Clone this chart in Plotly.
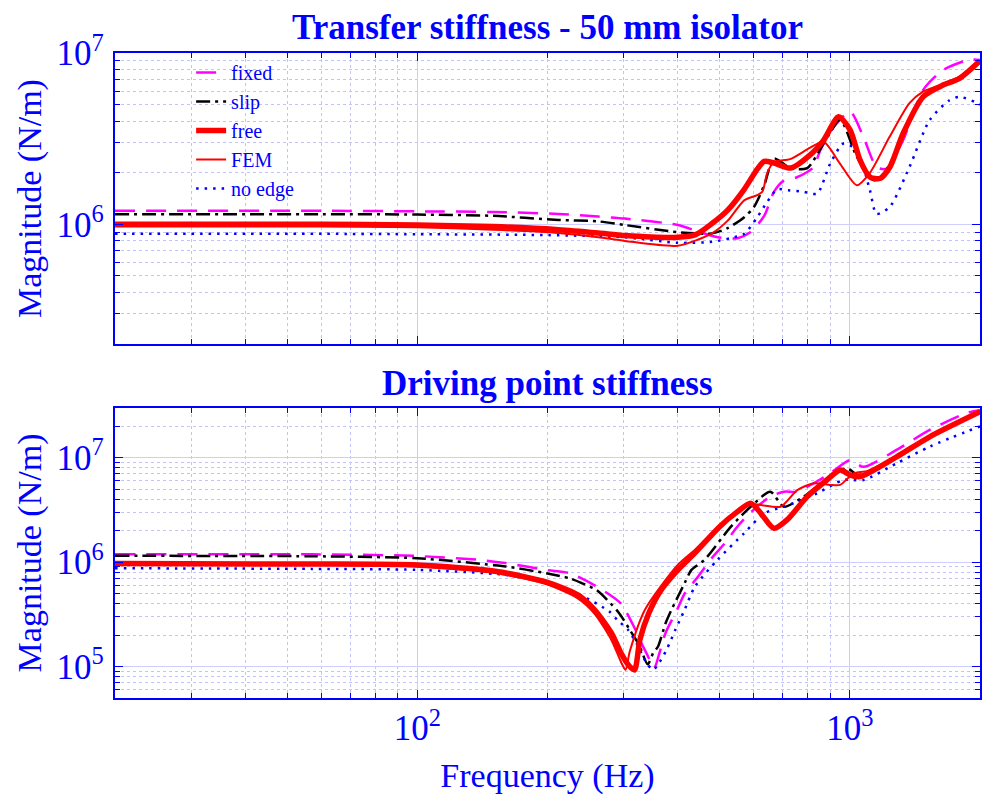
import numpy as np
import plotly.graph_objects as go

# ---------------- data ----------------
# Transfer stiffness (top panel)
tr_fixed_f = [20, 60, 100, 150, 212, 262, 302, 400, 450, 495, 550, 589, 634, 668, 704, 750, 797, 825, 855, 918, 1002, 1075, 1153, 1216, 1328, 1477, 1643, 1891, 2000]
tr_fixed_m = [1.2e6, 1.2e6, 1.19e6, 1.18e6, 1.15e6, 1.11e6, 1.08e6, 0.99e6, 0.9e6, 0.84e6, 0.83e6, 0.9e6, 1.12e6, 1.55e6, 1.8e6, 1.87e6, 2.02e6, 2.16e6, 2.71e6, 3.7e6, 4.54e6, 3.24e6, 2.16e6, 2.11e6, 3.1e6, 6.07e6, 7.95e6, 9.15e6, 9.1e6]

tr_slip_f = [20, 60, 100, 150, 212, 262, 302, 400, 480, 522, 570, 600, 634, 668, 730, 797, 870, 950, 1038, 1134, 1180, 1238, 1328, 1477, 1643, 1794, 2000]
tr_slip_m = [1.145e6, 1.145e6, 1.14e6, 1.12e6, 1.06e6, 1.04e6, 0.99e6, 0.9e6, 0.885e6, 0.95e6, 1.1e6, 1.26e6, 1.69e6, 2.42e6, 2.12e6, 2.13e6, 2.96e6, 4.06e6, 2.48e6, 1.81e6, 1.88e6, 2.25e6, 3.35e6, 5.5e6, 6.5e6, 7.1e6, 8.9e6]

tr_free_f = [20, 60, 100, 150, 212, 262, 302, 400, 440, 480, 522, 570, 611, 634, 668, 730, 811, 870, 942, 1002, 1056, 1113, 1174, 1238, 1328, 1477, 1643, 1794, 2000]
tr_free_m = [1.0e6, 1.0e6, 0.99e6, 0.97e6, 0.93e6, 0.89e6, 0.86e6, 0.84e6, 0.87e6, 1.01e6, 1.21e6, 1.6e6, 2.1e6, 2.33e6, 2.28e6, 2.13e6, 2.55e6, 3.1e6, 4.24e6, 3.55e6, 2.37e6, 1.89e6, 1.85e6, 2.16e6, 3.39e6, 5.55e6, 6.5e6, 7.1e6, 9.0e6]

tr_fem_f = [20, 60, 100, 150, 212, 262, 302, 400, 480, 522, 570, 611, 628, 644, 668, 728, 810, 870, 948, 1038, 1112, 1236, 1374, 1477, 1643, 1794, 2000]
tr_fem_m = [0.97e6, 0.97e6, 0.96e6, 0.93e6, 0.89e6, 0.84e6, 0.8e6, 0.75e6, 0.886e6, 1.05e6, 1.38e6, 1.48e6, 1.55e6, 1.99e6, 2.31e6, 2.4e6, 2.8e6, 3.03e6, 2.27e6, 1.69e6, 1.99e6, 3.24e6, 5.1e6, 5.95e6, 6.6e6, 7.3e6, 9.0e6]

tr_noedge_f = [20, 60, 100, 200, 300, 400, 480, 530, 570, 611, 644, 680, 720, 780, 840, 901, 967, 1038, 1113, 1153, 1236, 1374, 1530, 1700, 1792, 1941, 2000]
tr_noedge_m = [0.88e6, 0.88e6, 0.875e6, 0.865e6, 0.84e6, 0.78e6, 0.79e6, 0.83e6, 0.88e6, 1.1e6, 1.35e6, 1.6e6, 1.58e6, 1.55e6, 1.51e6, 2.26e6, 2.96e6, 2.71e6, 1.58e6, 1.15e6, 1.26e6, 2.16e6, 4.06e6, 5.3e6, 5.55e6, 5.2e6, 5.0e6]

# Driving point stiffness (bottom panel)
dp_fixed_f = [20, 57, 98, 140, 160, 200, 225, 257, 295, 318, 327, 340, 353, 362, 375, 400, 415, 445, 480, 513, 550, 590, 655, 704, 756, 825, 901, 1002, 1075, 1283, 1530, 1858, 2000]
dp_fixed_m = [1.19e6, 1.19e6, 1.15e6, 1.05e6, 0.98e6, 0.84e6, 0.785e6, 0.6e6, 0.405e6, 0.234e6, 0.18e6, 1.3e5, 0.97e5, 1.3e5, 0.21e6, 0.36e6, 0.5e6, 0.72e6, 1.1e6, 1.5e6, 2.2e6, 3.0e6, 4.25e6, 4.74e6, 4.74e6, 5.7e6, 7.1e6, 9.5e6, 8.2e6, 1.19e7, 1.85e7, 2.68e7, 2.85e7]

dp_slip_f = [20, 57, 100, 160, 200, 225, 240, 260, 292, 311, 326, 341, 351, 360, 375, 387, 415, 430, 461, 531, 590, 655, 704, 782, 901, 985, 1040, 1100, 1283, 1530, 2000]
dp_slip_m = [1.15e6, 1.14e6, 1.09e6, 0.91e6, 0.78e6, 0.7e6, 0.63e6, 0.54e6, 0.33e6, 0.22e6, 0.16e6, 1.05e5, 1.35e5, 1.55e5, 0.26e6, 0.35e6, 0.63e6, 0.84e6, 1.05e6, 2.19e6, 3.4e6, 4.74e6, 3.4e6, 4.25e6, 6.6e6, 7.95e6, 6.9e6, 7.1e6, 1.03e7, 1.6e7, 2.75e7]

dp_free_f = [20, 57, 100, 154, 200, 235, 257, 281, 296, 310, 318, 327, 343, 366, 400, 438, 500, 550, 590, 623, 668, 716, 797, 885, 950, 1002, 1056, 1283, 1530, 2000]
dp_free_m = [0.97e6, 0.96e6, 0.94e6, 0.81e6, 0.64e6, 0.486e6, 0.35e6, 0.21e6, 1.34e5, 1.0e5, 0.93e5, 0.18e6, 0.325e6, 0.54e6, 0.84e6, 1.22e6, 2.19e6, 3.05e6, 3.67e6, 2.94e6, 2.11e6, 2.54e6, 4.25e6, 6.13e6, 7.64e6, 6.84e6, 6.6e6, 1.02e7, 1.59e7, 2.76e7]

dp_fem_f = [20, 57, 100, 154, 200, 235, 257, 281, 296, 303, 310, 336, 400, 438, 500, 550, 590, 623, 692, 756, 825, 901, 950, 1020, 1100, 1283, 1530, 2000]
dp_fem_m = [0.95e6, 0.94e6, 0.91e6, 0.78e6, 0.61e6, 0.45e6, 0.32e6, 0.18e6, 1.1e5, 0.93e5, 1.4e5, 0.35e6, 0.94e6, 1.31e6, 2.25e6, 3.1e6, 3.6e6, 3.53e6, 3.4e6, 4.9e6, 5.7e6, 5.5e6, 5.5e6, 7.1e6, 7.5e6, 1.03e7, 1.6e7, 2.76e7]

dp_noedge_f = [20, 57, 100, 160, 200, 235, 278, 290, 307, 321, 330, 339, 351, 360, 377, 395, 415, 438, 494, 570, 634, 704, 756, 840, 967, 1075, 1283, 1530, 2000]
dp_noedge_m = [0.875e6, 0.863e6, 0.845e6, 0.756e6, 0.64e6, 0.5e6, 0.337e6, 0.28e6, 0.225e6, 0.168e6, 1.34e5, 1.08e5, 0.93e5, 1.04e5, 0.145e6, 0.225e6, 0.35e6, 0.58e6, 1.05e6, 1.9e6, 2.94e6, 3.4e6, 3.8e6, 4.57e6, 6.13e6, 6.13e6, 8.85e6, 1.28e7, 2.0e7]

series_names = ["fixed", "slip", "free", "FEM", "no edge"]

# ---------------- styling ----------------
BLUE = "rgb(0,0,255)"
FONT = "Liberation Serif"
styles = {
    "fixed":   dict(color="rgb(255,0,255)", width=2.5, dash="20px,11px"),
    "slip":    dict(color="black", width=2.5, dash="14px,5px,3px,5px"),
    "free":    dict(color="rgb(255,0,0)", width=5.5, dash="solid"),
    "FEM":     dict(color="rgb(255,0,0)", width=2, dash="solid"),
    "no edge": dict(color="rgb(0,0,255)", width=2.5, dash="2.5px,6px"),
}
top = {"fixed": (tr_fixed_f, tr_fixed_m), "slip": (tr_slip_f, tr_slip_m),
       "free": (tr_free_f, tr_free_m), "FEM": (tr_fem_f, tr_fem_m),
       "no edge": (tr_noedge_f, tr_noedge_m)}
bot = {"fixed": (dp_fixed_f, dp_fixed_m), "slip": (dp_slip_f, dp_slip_m),
       "free": (dp_free_f, dp_free_m), "FEM": (dp_fem_f, dp_fem_m),
       "no edge": (dp_noedge_f, dp_noedge_m)}

draw_order = ["fixed", "slip", "no edge", "FEM", "free"]

fig = go.Figure()
for name in draw_order:
    st = styles[name]
    rank = series_names.index(name) + 1
    f, m = top[name]
    fig.add_trace(go.Scatter(x=f, y=m, mode="lines", name=name,
                             legendrank=rank, line=dict(shape="spline", smoothing=0.7, **st),
                             xaxis="x", yaxis="y"))
    f, m = bot[name]
    fig.add_trace(go.Scatter(x=f, y=m, mode="lines", name=name,
                             showlegend=False, line=dict(shape="spline", smoothing=0.7, **st),
                             xaxis="x2", yaxis="y2"))

common_axis = dict(
    type="log", showline=True, linecolor=BLUE, linewidth=1.5, mirror="ticks",
    ticks="inside", ticklen=8, tickcolor=BLUE, tickwidth=1.2,
    showgrid=True, gridcolor="rgb(205,205,255)", gridwidth=1, zeroline=False,
    dtick=1, exponentformat="power",
    tickfont=dict(family=FONT, size=28, color=BLUE),
    minor=dict(ticks="inside", ticklen=5, tickcolor=BLUE, tickwidth=1,
               showgrid=True, gridcolor="rgb(195,195,248)", griddash="dot", gridwidth=1),
)

ytitle = dict(text="Magnitude (N/m)", font=dict(family=FONT, size=34, color=BLUE), standoff=4)

fig.update_layout(
    width=983, height=801,
    margin=dict(l=115, r=1, t=53, b=103),
    paper_bgcolor="white", plot_bgcolor="white",
    showlegend=True,
    legend=dict(x=0.088, y=1.0, xanchor="left", yanchor="top",
                bgcolor="rgba(0,0,0,0)", borderwidth=0,
                font=dict(family=FONT, size=20, color=BLUE)),
    xaxis=dict(common_axis, domain=[0, 1], anchor="y", range=[np.log10(20), np.log10(2000)],
               showticklabels=False, matches="x2"),
    yaxis=dict(common_axis, domain=[0.5488, 1], anchor="x",
               range=[np.log10(2e5), 7], title=ytitle, ticklabelstandoff=4),
    xaxis2=dict(common_axis, domain=[0, 1], anchor="y2", range=[np.log10(20), np.log10(2000)],
                title=dict(text="Frequency (Hz)", font=dict(family=FONT, size=34, color=BLUE), standoff=16)),
    yaxis2=dict(common_axis, domain=[0, 0.4496], anchor="x2",
                range=[np.log10(5e4), np.log10(3e7)], title=ytitle, ticklabelstandoff=4),
    annotations=[
        dict(text="<b>Transfer stiffness - 50 mm isolator</b>", xref="paper", yref="paper",
             x=0.5, y=1.0388, xanchor="center", yanchor="middle", showarrow=False,
             font=dict(family=FONT, size=35, color=BLUE)),
        dict(text="<b>Driving point stiffness</b>", xref="paper", yref="paper",
             x=0.5, y=0.488, xanchor="center", yanchor="middle", showarrow=False,
             font=dict(family=FONT, size=35, color=BLUE)),
    ],
)

fig.write_html("out.html")
